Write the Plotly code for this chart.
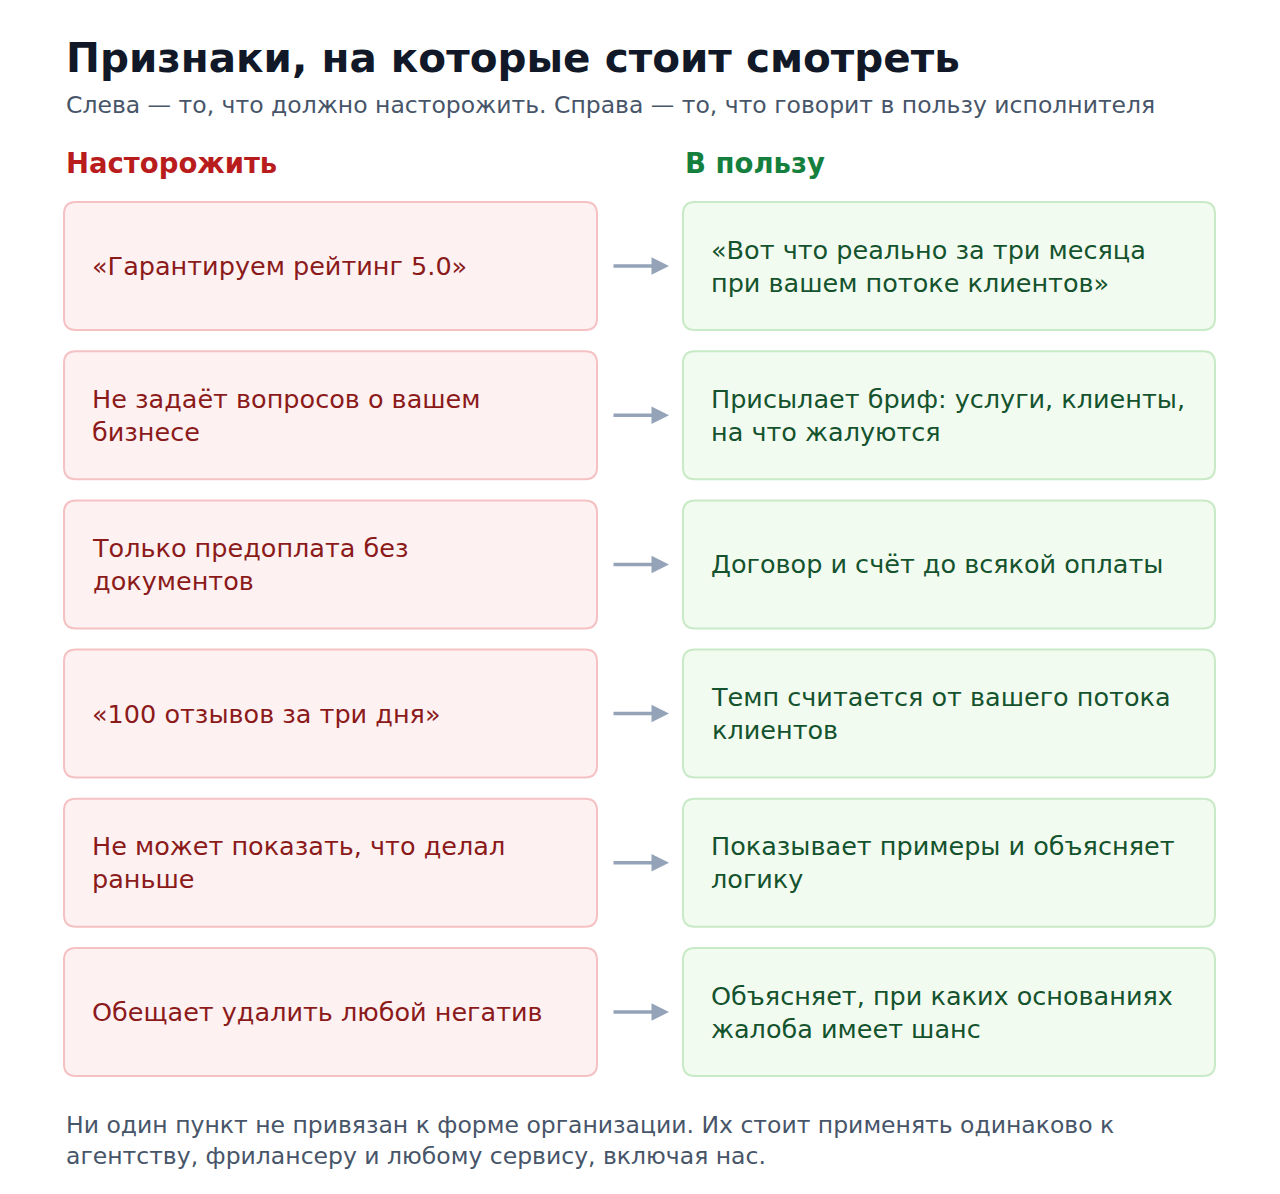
import plotly.graph_objects as go

W, H = 1280, 1194
TITLE = "Признаки, на которые стоит смотреть"
SUBTITLE = "Слева — то, что должно насторожить. Справа — то, что говорит в пользу исполнителя"
LEFT_HEAD = "Насторожить"
RIGHT_HEAD = "В пользу"
red_flags = [
    "«Гарантируем рейтинг 5.0»",
    "Не задаёт вопросов о вашем<br>бизнесе",
    "Только предоплата без<br>документов",
    "«100 отзывов за три дня»",
    "Не может показать, что делал<br>раньше",
    "Обещает удалить любой негатив",
]
good_signs = [
    "«Вот что реально за три месяца<br>при вашем потоке клиентов»",
    "Присылает бриф: услуги, клиенты,<br>на что жалуются",
    "Договор и счёт до всякой оплаты",
    "Темп считается от вашего потока<br>клиентов",
    "Показывает примеры и объясняет<br>логику",
    "Объясняет, при каких основаниях<br>жалоба имеет шанс",
]
FOOTER = ("Ни один пункт не привязан к форме организации. Их стоит применять одинаково к<br>"
          "агентству, фрилансеру и любому сервису, включая нас.")

FONT = "DejaVu Sans"
OFF = 8  # page body margin


def rrect(x0, y0, x1, y1, r=12):
    return (f"M{x0+r},{y0} L{x1-r},{y0} Q{x1},{y0} {x1},{y0+r} L{x1},{y1-r} "
            f"Q{x1},{y1} {x1-r},{y1} L{x0+r},{y1} Q{x0},{y1} {x0},{y1-r} "
            f"L{x0},{y0+r} Q{x0},{y0} {x0+r},{y0} Z")


fig = go.Figure()
fig.add_trace(go.Scatter(x=[OFF, W], y=[OFF, H], mode="markers",
                         marker=dict(opacity=0), hoverinfo="none", showlegend=False))

shapes, ann = [], []


def text(x, y, s, size, color, bold=False):
    if bold:
        s = f"<b>{s}</b>"
    ann.append(dict(x=x, y=y, xref="x", yref="y", text=s, showarrow=False,
                    xanchor="left", yanchor="middle", align="left",
                    font=dict(family=FONT, size=size, color=color)))


text(64, 58, TITLE, 40.5, "#111827", bold=True)
text(64, 105, SUBTITLE, 23.5, "#475569")
text(64, 163, LEFT_HEAD, 27.5, "#b91c1c", bold=True)
text(683, 163, RIGHT_HEAD, 27.5, "#15803d", bold=True)

for i, (l, r) in enumerate(zip(red_flags, good_signs)):
    y0 = 202 + i * 149.2
    y1 = y0 + 128
    yc = (y0 + y1) / 2
    shapes.append(dict(type="path", path=rrect(64, y0, 597, y1), xref="x", yref="y",
                       fillcolor="#fef1f2", line=dict(color="#f5c1c3", width=2)))
    shapes.append(dict(type="path", path=rrect(683, y0, 1215, y1), xref="x", yref="y",
                       fillcolor="#f2fbf0", line=dict(color="#c8eac6", width=2)))
    text(90, yc, l, 25.5, "#8b1a1a")
    text(709, yc, r, 25.5, "#14532d")
    ann.append(dict(x=669, y=yc, ax=612, ay=yc, xref="x", yref="y", axref="x", ayref="y",
                    text="", showarrow=True, arrowhead=2, arrowsize=1, arrowwidth=3.5,
                    arrowcolor="#94a3b8"))

text(64, 1140, FOOTER, 23.5, "#475569")

fig.update_layout(
    width=W, height=H, margin=dict(l=0, r=0, t=0, b=0),
    paper_bgcolor="white", plot_bgcolor="white",
    xaxis=dict(range=[OFF, W + OFF], visible=False, fixedrange=True),
    yaxis=dict(range=[H + OFF, OFF], visible=False, fixedrange=True),
    shapes=shapes, annotations=ann, showlegend=False)
fig.write_html("out.html")
